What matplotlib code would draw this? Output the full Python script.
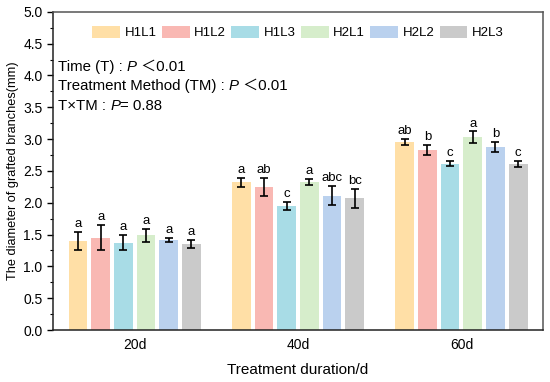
import numpy as np
import matplotlib
matplotlib.use('Agg')
import matplotlib.pyplot as plt
from matplotlib.patches import Patch
from matplotlib.offsetbox import TextArea, HPacker, VPacker, AnchoredOffsetbox
from matplotlib.ticker import MultipleLocator

# Data
days = ['20d', '40d', '60d']
treatments = ['H1L1', 'H1L2', 'H1L3', 'H2L1', 'H2L2', 'H2L3']
colors = ['#FFDFA6', '#F9B8B3', '#A8DCE6', '#D6EDCB', '#BAD1EE', '#CACACA']

means = {
    'H1L1': [1.40, 2.32, 2.95],
    'H1L2': [1.45, 2.25, 2.83],
    'H1L3': [1.37, 1.95, 2.61],
    'H2L1': [1.49, 2.33, 3.03],
    'H2L2': [1.42, 2.11, 2.88],
    'H2L3': [1.35, 2.07, 2.61],
}
errors = {
    'H1L1': [0.14, 0.07, 0.05],
    'H1L2': [0.20, 0.14, 0.08],
    'H1L3': [0.12, 0.06, 0.04],
    'H2L1': [0.10, 0.05, 0.09],
    'H2L2': [0.03, 0.15, 0.08],
    'H2L3': [0.06, 0.15, 0.05],
}
letters = {
    'H1L1': ['a', 'a', 'ab'],
    'H1L2': ['a', 'ab', 'b'],
    'H1L3': ['a', 'c', 'c'],
    'H2L1': ['a', 'a', 'a'],
    'H2L2': ['a', 'abc', 'b'],
    'H2L3': ['a', 'bc', 'c'],
}

plt.rcParams['font.family'] = ['Liberation Sans', 'Noto Sans CJK SC', 'DejaVu Sans']

fig = plt.figure(figsize=(5.5, 3.82), dpi=100)
ax = fig.add_axes([0.0964, 0.136, 0.891, 0.833])

x = np.arange(len(days))
step = 0.139
width = 0.115

for i, t in enumerate(treatments):
    pos = x + (i - 2.5) * step
    ax.bar(pos, means[t], width, color=colors[i], zorder=2)
    ax.errorbar(pos, means[t], yerr=errors[t], fmt='none', ecolor='black',
                elinewidth=1.2, capsize=2.8, capthick=1.2, zorder=3)
    for px, m, e, lab in zip(pos, means[t], errors[t], letters[t]):
        ax.text(px, m + e + 0.03, lab, ha='center', va='bottom', fontsize=9.5)

ax.set_xlim(-0.5, 2.5)
ax.set_ylim(0, 5.0)
ax.set_xticks(x)
ax.set_xticklabels(days, fontsize=10)
ax.tick_params(axis='x', length=0, pad=6)
ax.yaxis.set_major_locator(MultipleLocator(0.5))
ax.yaxis.set_minor_locator(MultipleLocator(0.25))
ax.yaxis.set_major_formatter(matplotlib.ticker.FormatStrFormatter('%.1f'))
ax.tick_params(axis='y', which='major', length=4, width=1, labelsize=10, direction='out')
ax.tick_params(axis='y', which='minor', length=2.2, width=0.8, direction='out')

for s in ['left', 'bottom']:
    ax.spines[s].set_linewidth(1.1)
    ax.spines[s].set_color('#222222')
for s in ['top', 'right']:
    ax.spines[s].set_linewidth(1.1)
    ax.spines[s].set_color('#555555')

ax.set_xlabel('Treatment duration/d', fontsize=11, labelpad=8)
ax.set_ylabel('The diameter of grafted branches(mm)', fontsize=9.2, labelpad=3)

# Legend
handles = [Patch(facecolor=c, edgecolor='none') for c in colors]
ax.legend(handles, treatments, loc='upper center', bbox_to_anchor=(0.5, 0.985),
          ncol=6, frameon=False, fontsize=9.5, handlelength=2.1, handleheight=1.0,
          handletextpad=0.35, columnspacing=0.4, borderaxespad=0.3)

# Statistics text
tp = dict(fontsize=10.8)
tpi = dict(fontsize=10.8, style='italic')
rows = [
    [TextArea('Time (T) : ', textprops=tp), TextArea('P', textprops=tpi),
     TextArea(' \uff1c0.01', textprops=tp)],
    [TextArea('Treatment Method (TM) : ', textprops=tp), TextArea('P', textprops=tpi),
     TextArea(' \uff1c0.01', textprops=tp)],
    [TextArea('T\u00d7TM : ', textprops=tp), TextArea('P', textprops=tpi),
     TextArea('= 0.88', textprops=tp)],
]
lines = [HPacker(children=r, align='baseline', pad=0, sep=0) for r in rows]
box = VPacker(children=lines, align='left', pad=0, sep=4)
anch = AnchoredOffsetbox(loc='upper left', child=box, frameon=False,
                         bbox_to_anchor=(0.01, 0.85), bbox_transform=ax.transAxes,
                         borderpad=0, pad=0)
ax.add_artist(anch)

fig.savefig('out.png', dpi=100)
